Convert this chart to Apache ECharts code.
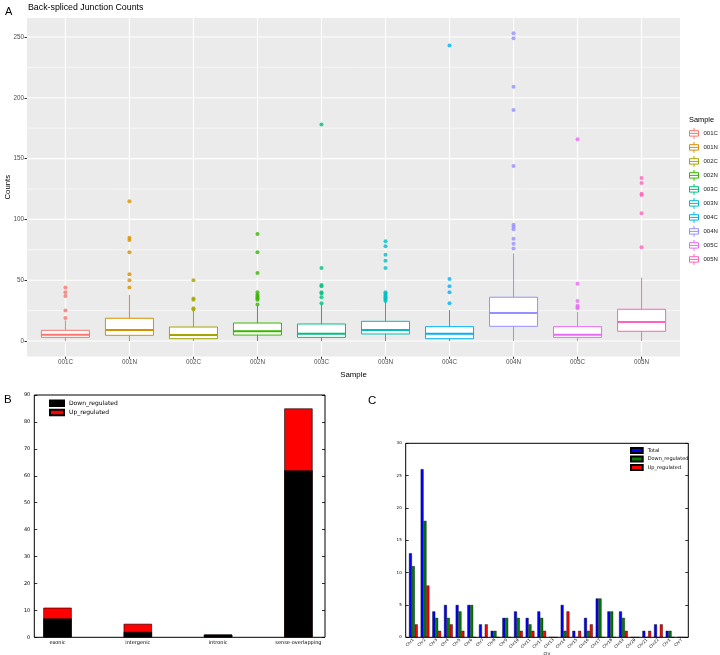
<!DOCTYPE html>
<html><head><meta charset="utf-8">
<script src="https://cdn.jsdelivr.net/npm/echarts@6/dist/echarts.min.js"></script>
<style>
html,body{margin:0;padding:0;background:#fff;width:720px;height:655px;overflow:hidden}
#a{position:absolute;left:0;top:0;width:720px;height:380px}
#b{position:absolute;left:0;top:380px;width:360px;height:275px}
#c{position:absolute;left:360px;top:380px;width:360px;height:275px}
</style></head><body>
<div id="a"></div><div id="b"></div><div id="c"></div>
<script>
// ---------- Panel A data ----------
const samples = ['001C','001N','002C','002N','003C','003N','004C','004N','005C','005N'];
const sampleColors = ['#F8766D','#D89000','#A3A500','#39B600','#00BF7D','#00BFC4','#00B0F6','#9590FF','#E76BF3','#FF62BC'];
const whiskerLow = [0,0,0,0,0,0,0,0,0,0];
const q1 = [3.0,4.7,1.9,4.9,3.0,5.8,1.9,12.1,3.0,8.0];
const median = [5.2,9.1,4.9,8.0,6.0,9.1,6.0,23.0,5.2,15.6];
const q3 = [8.8,18.7,11.5,14.8,14.0,16.2,11.8,36.0,11.8,26.1];
const whiskerHigh = [17,38,25,29,30,32,25.5,72,24,52];
const outliers = [
  [19,25,37,40,44],
  [44,50,55,73,83,85,115],
  [26,27,34,35,50],
  [30,34,35,36,37,38,40,56,73,88],
  [31,36,39,40,45,46,60,178],
  [33,34,35,36,37,38,39,40,60,66,71,78,82],
  [31,40,45,51,243],
  [76,80,84,92,94,95.5,144,190,209,249,253],
  [27,28,29,33,47,166],
  [77,105,120,121,130,134]
];
const yMajorA = [0,50,100,150,200,250];
const yMinorA = [25,75,125,175,225];

// ---------- Panel B data ----------
const regionCats = ['exonic','intergenic','intronic','sense-overlapping'];
const regionDown = [7,2,1,62];
const regionUp = [4,3,0,23];

// ---------- Panel C data ----------
const chromosomes = ['Chr1','Chr2','Chr3','Chr4','Chr5','Chr6','Chr7','Chr8','Chr9','Chr10','Chr11','Chr12','Chr13','Chr14','Chr15','Chr16','Chr17','Chr18','Chr19','Chr20','Chr21','Chr22','ChrX','ChrY'];
const chrTotal = [13,26,4,5,5,5,2,1,3,4,3,4,0,5,1,3,6,4,4,0,1,2,1,0];
const chrDown  = [11,18,3,3,4,5,0,1,3,3,2,3,0,1,0,1,6,4,3,0,0,0,1,0];
const chrUp    = [2,8,1,2,1,0,2,0,0,1,1,1,0,4,1,2,0,0,1,0,1,2,0,0];

// ================= Panel A =================
const FA = 'Liberation Sans, Arial, sans-serif';
const XMIN = -0.6, XMAX = samples.length - 1 + 0.6;
const YMIN = -12.65, YMAX = 265.6;
const BOXW = 0.75;
const idxA = samples.map((s,i)=>i);

function hLine(width){
  return function(p, api){
    const v = api.value(1);
    const a = api.coord([XMIN, v]), b = api.coord([XMAX, v]);
    return {type:'line', shape:{x1:a[0],y1:a[1],x2:b[0],y2:b[1]}, style:{stroke:'#ffffff', lineWidth:width}};
  };
}
const seriesA = [
  {type:'custom', silent:true, z:1, data:yMinorA.map(v=>[XMIN,v]), encode:{x:0,y:1}, renderItem:hLine(0.6)},
  {type:'custom', silent:true, z:1, data:yMajorA.map(v=>[XMIN,v]), encode:{x:0,y:1}, renderItem:hLine(1.1)},
  {type:'custom', silent:true, z:1, data:idxA.map(v=>[v,YMIN]), encode:{x:0,y:1}, renderItem:function(p, api){
    const v = api.value(0);
    const a = api.coord([v, YMIN]), b = api.coord([v, YMAX]);
    return {type:'line', shape:{x1:a[0],y1:a[1],x2:b[0],y2:b[1]}, style:{stroke:'#ffffff', lineWidth:1.1}};
  }}
];
samples.forEach((s,i)=>{
  const col = sampleColors[i];
  seriesA.push({
    type:'custom', name:s, z:3, silent:true,
    itemStyle:{color:col},
    data:[[i, whiskerLow[i], q1[i], median[i], q3[i], whiskerHigh[i]]],
    encode:{x:0, y:[1,2,3,4,5]},
    renderItem:function(p, api){
      const x = api.value(0), hw = BOXW/2;
      const lo = api.coord([x, api.value(1)]);
      const b1 = api.coord([x, api.value(2)]);
      const b3 = api.coord([x, api.value(4)]);
      const hi = api.coord([x, api.value(5)]);
      const mL = api.coord([x-hw, api.value(3)]), mR = api.coord([x+hw, api.value(3)]);
      const tl = api.coord([x-hw, api.value(4)]), br = api.coord([x+hw, api.value(2)]);
      return {type:'group', children:[
        {type:'line', shape:{x1:lo[0],y1:lo[1],x2:b1[0],y2:b1[1]}, style:{stroke:col,lineWidth:1}},
        {type:'line', shape:{x1:b3[0],y1:b3[1],x2:hi[0],y2:hi[1]}, style:{stroke:col,lineWidth:1}},
        {type:'rect', shape:{x:tl[0],y:tl[1],width:br[0]-tl[0],height:br[1]-tl[1]}, style:{fill:'#ffffff',stroke:col,lineWidth:1}},
        {type:'line', shape:{x1:mL[0],y1:mL[1],x2:mR[0],y2:mR[1]}, style:{stroke:col,lineWidth:2}}
      ]};
    }
  });
  seriesA.push({
    type:'scatter', name:s, z:4, silent:true, symbolSize:4,
    itemStyle:{color:col},
    data:outliers[i].map(v=>[i,v])
  });
});

const chartA = echarts.init(document.getElementById('a'));
chartA.setOption({
  animation:false,
  backgroundColor:'#ffffff',
  textStyle:{fontFamily:FA},
  grid:{left:27, top:18, width:653, height:338.4, show:true, backgroundColor:'#ebebeb', borderWidth:0, outerBoundsMode:'none', containLabel:false},
  xAxis:{type:'value', min:XMIN, max:XMAX,
    axisLine:{show:false, onZero:false},
    axisTick:{show:true, customValues:idxA, length:2.5, lineStyle:{color:'#333333', width:1}},
    axisLabel:{customValues:idxA, formatter:v=>samples[Math.round(v)], fontSize:6.3, color:'#4d4d4d', margin:3, fontFamily:FA},
    splitLine:{show:false},
    name:'Sample', nameLocation:'middle', nameGap:14, nameTextStyle:{fontSize:7.8, color:'#000', fontFamily:FA}
  },
  yAxis:{type:'value', min:YMIN, max:YMAX,
    axisLine:{show:false, onZero:false},
    axisTick:{show:true, customValues:yMajorA, length:2.5, lineStyle:{color:'#333333', width:1}},
    axisLabel:{customValues:yMajorA, fontSize:6.3, color:'#4d4d4d', margin:3, fontFamily:FA},
    splitLine:{show:false},
    name:'Counts', nameLocation:'middle', nameRotate:90, nameGap:15, nameMoveOverlap:false,
    nameTextStyle:{fontSize:7.8, color:'#000', fontFamily:FA}
  },
  legend:{
    orient:'vertical', left:689, top:127.5, padding:0,
    itemWidth:9, itemHeight:11, itemGap:2.2, selectedMode:false,
    textStyle:{fontSize:6, color:'#1a1a1a', fontFamily:FA},
    data:samples.map((s,i)=>({name:s, icon:'path://M0,3L10,3L10,9L0,9Z M0,6L10,6 M5,0L5,3 M5,9L5,12',
      itemStyle:{color:'#ffffff', borderColor:sampleColors[i], borderWidth:1}}))
  },
  graphic:[
    {type:'text', left:5, top:6, style:{text:'A', fontSize:11, fill:'#000', fontFamily:FA}},
    {type:'text', left:28, top:3.5, style:{text:'Back-spliced Junction Counts', fontSize:8.8, fill:'#000', fontFamily:FA}},
    {type:'text', left:689, top:116, style:{text:'Sample', fontSize:7.4, fill:'#000', fontFamily:FA}}
  ],
  series:seriesA
});

// ================= Panel B =================
const FM = 'DejaVu Sans, sans-serif';
const idxB = regionCats.map((c,i)=>i);
const regionTotal = regionDown.map((v,i)=>v + regionUp[i]);
const chartB = echarts.init(document.getElementById('b'));
chartB.setOption({
  animation:false,
  backgroundColor:'#ffffff',
  textStyle:{fontFamily:FM},
  grid:{left:34.3, top:15, width:290.7, height:242.3, show:true, borderColor:'#000', borderWidth:1, backgroundColor:'#fff', outerBoundsMode:'none', containLabel:false},
  xAxis:{type:'value', min:-0.289, max:3.331,
    axisLine:{show:false, onZero:false}, axisTick:{show:false},
    axisLabel:{customValues:idxB, formatter:v=>regionCats[Math.round(v)], fontSize:5, color:'#000', margin:3, fontFamily:FM},
    splitLine:{show:false}
  },
  yAxis:[
    {type:'value', min:0, max:90, interval:10, axisLine:{show:false, onZero:false},
      axisTick:{show:true, inside:true, length:3, lineStyle:{color:'#000', width:0.8}},
      axisLabel:{fontSize:5, color:'#000', margin:4, fontFamily:FM}, splitLine:{show:false}},
    {type:'value', position:'right', min:0, max:90, interval:10, axisLine:{show:false, onZero:false},
      axisTick:{show:true, inside:true, length:3, lineStyle:{color:'#000', width:0.8}},
      axisLabel:{show:false}, splitLine:{show:false}}
  ],
  legend:{
    orient:'vertical', left:49, top:19.5, padding:0, itemWidth:14, itemHeight:5.5, itemGap:1.8,
    selectedMode:false, icon:'rect',
    textStyle:{fontSize:6, color:'#000', fontFamily:FM},
    data:['Down_regulated','Up_regulated']
  },
  graphic:[{type:'text', left:4, top:14, style:{text:'B', fontSize:11.5, fill:'#000', fontFamily:FA}}],
  series:[
    // Up_regulated segment shown as the part of the total column above the Down_regulated column
    {type:'bar', name:'Up_regulated', barWidth:28.3, barGap:'-100%', z:2,
      itemStyle:{color:'#ff0000', borderColor:'#000', borderWidth:0.6},
      data:regionTotal.map((v,i)=>[i,v])},
    {type:'bar', name:'Down_regulated', barWidth:28.3, barGap:'-100%', z:3,
      itemStyle:{color:'#000000', borderColor:'#000', borderWidth:0.6},
      data:regionDown.map((v,i)=>[i,v])}
  ]
});

// ================= Panel C =================
const idxC = chromosomes.map((c,i)=>i);
const chartC = echarts.init(document.getElementById('c'));
chartC.setOption({
  animation:false,
  backgroundColor:'#ffffff',
  textStyle:{fontFamily:FM},
  grid:{left:45.7, top:63.3, width:282.6, height:194, show:true, borderColor:'#000', borderWidth:1, backgroundColor:'#fff', outerBoundsMode:'none', containLabel:false},
  xAxis:{type:'value', min:-0.656, max:23.56,
    axisLine:{show:false, onZero:false}, axisTick:{show:false},
    axisLabel:{customValues:idxC, formatter:v=>chromosomes[Math.round(v)], rotate:45, fontSize:4, color:'#000', margin:2, fontFamily:FM},
    splitLine:{show:false},
    name:'Chr', nameLocation:'middle', nameGap:15, nameMoveOverlap:false,
    nameTextStyle:{fontSize:4, color:'#000', fontFamily:FM}
  },
  yAxis:[
    {type:'value', min:0, max:30, interval:5, axisLine:{show:false, onZero:false},
      axisTick:{show:true, inside:true, length:3, lineStyle:{color:'#000', width:0.8}},
      axisLabel:{fontSize:4, color:'#000', margin:4, fontFamily:FM}, splitLine:{show:false}},
    {type:'value', position:'right', min:0, max:30, interval:5, axisLine:{show:false, onZero:false},
      axisTick:{show:true, inside:true, length:3, lineStyle:{color:'#000', width:0.8}},
      axisLabel:{show:false}, splitLine:{show:false}}
  ],
  legend:{
    orient:'vertical', left:270, top:67, padding:0, itemWidth:11.7, itemHeight:5, itemGap:1.5,
    selectedMode:false, icon:'rect',
    textStyle:{fontSize:5, color:'#000', fontFamily:FM},
    data:['Total','Down_regulated','Up_regulated']
  },
  graphic:[{type:'text', left:8, top:15, style:{text:'C', fontSize:11.5, fill:'#000', fontFamily:FA}}],
  series:[
    {type:'bar', name:'Total', barWidth:2.9, barGap:'0%',
      itemStyle:{color:'#0000ff', borderColor:'#000', borderWidth:0.4},
      data:chrTotal.map((v,i)=>[i,v])},
    {type:'bar', name:'Down_regulated', barWidth:2.9, barGap:'0%',
      itemStyle:{color:'#008000', borderColor:'#000', borderWidth:0.4},
      data:chrDown.map((v,i)=>[i,v])},
    {type:'bar', name:'Up_regulated', barWidth:2.9, barGap:'0%',
      itemStyle:{color:'#ff0000', borderColor:'#000', borderWidth:0.4},
      data:chrUp.map((v,i)=>[i,v])}
  ]
});
</script>
</body></html>
